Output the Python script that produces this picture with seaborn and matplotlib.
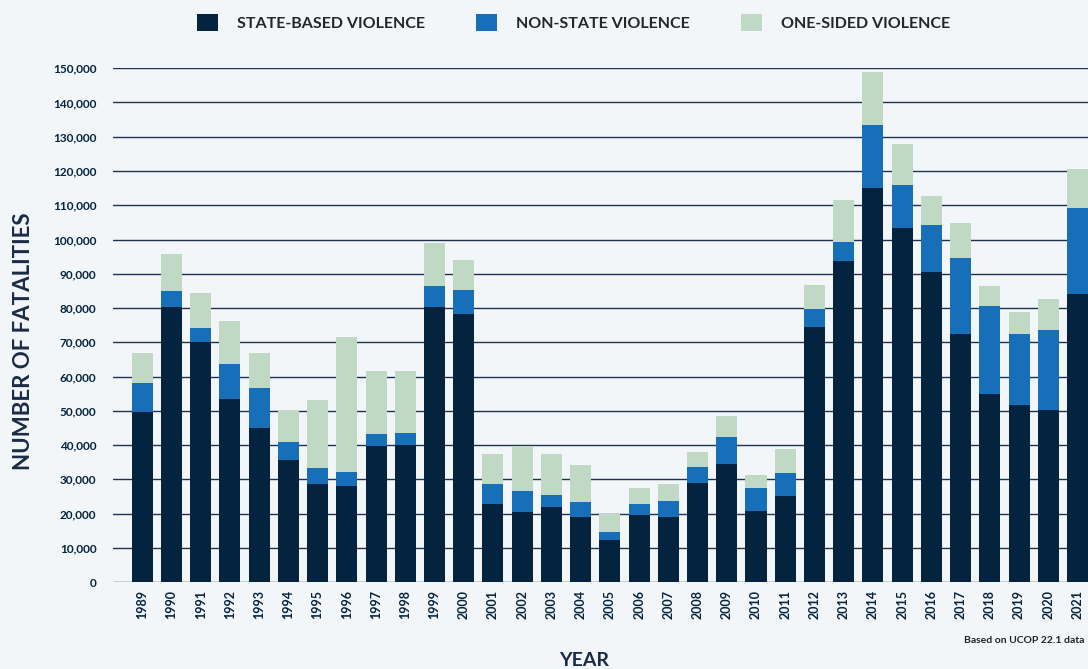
import matplotlib
matplotlib.use("Agg")
import matplotlib.pyplot as plt
from matplotlib.patches import Patch
from matplotlib.ticker import FuncFormatter
import numpy as np
import pandas as pd
import seaborn as sns

# data (thousands of fatalities)
years = [str(y) for y in range(1989, 2022)]
state_based = [49.6, 80.3, 70.0, 53.4, 44.9, 35.6, 28.6, 28.0, 39.7, 40.0,
               80.3, 78.2, 22.8, 20.4, 21.9, 19.0, 12.3, 19.6, 19.0, 28.9,
               34.4, 20.7, 25.1, 74.4, 93.7, 115.0, 103.3, 90.5, 72.4, 54.9,
               51.7, 50.2, 84.0]
non_state = [8.5, 4.6, 4.1, 10.2, 11.7, 5.3, 4.7, 4.1, 3.5, 3.5,
             6.1, 7.0, 5.8, 6.2, 3.5, 4.3, 2.3, 3.2, 4.6, 4.7,
             7.9, 6.7, 6.7, 5.3, 5.5, 18.4, 12.6, 13.7, 22.2, 25.6,
             20.7, 23.3, 25.1]
one_sided = [8.7, 10.8, 10.2, 12.6, 10.2, 9.3, 19.8, 39.4, 18.4, 18.1,
             12.5, 8.8, 8.8, 13.1, 12.0, 10.8, 5.2, 4.6, 5.0, 4.3,
             6.1, 3.8, 7.0, 7.0, 12.3, 15.4, 11.9, 8.4, 10.2, 5.9,
             6.4, 9.1, 11.4]
series_names = ["STATE-BASED VIOLENCE", "NON-STATE VIOLENCE", "ONE-SIDED VIOLENCE"]

df = pd.DataFrame({"year": years,
                   "state": np.array(state_based) * 1000,
                   "nonstate": np.array(non_state) * 1000,
                   "onesided": np.array(one_sided) * 1000})
df["lvl2"] = df["state"] + df["nonstate"]
df["lvl3"] = df["lvl2"] + df["onesided"]

bg = "#f2f6f9"
navy = "#04233f"
c_state, c_non, c_one = "#04233f", "#176fba", "#bfd9c5"

sns.set_style("white")
plt.rcParams["font.family"] = ["Lato", "DejaVu Sans"]

fig = plt.figure(figsize=(10.88, 6.69), dpi=100, facecolor=bg)
ax = fig.add_axes([0.1039, 0.130, 0.8961, 0.768])
ax.set_facecolor(bg)

# stacked bars: draw cumulative totals on top of each other
for col, color in [("lvl3", c_one), ("lvl2", c_non), ("state", c_state)]:
    sns.barplot(data=df, x="year", y=col, color=color, width=0.72,
                saturation=1, ax=ax, order=years, zorder=3, linewidth=0)

ax.set_xlim(-1.0, 32.36)
ax.set_ylim(0, 150000)
ax.set_yticks(np.arange(0, 150001, 10000))
ax.yaxis.set_major_formatter(FuncFormatter(lambda v, p: f"{int(v):,}"))
ax.grid(axis="y", color="#1c3350", linewidth=1.0, zorder=0)
ax.set_axisbelow(True)
for s in ax.spines.values():
    s.set_visible(False)
ax.tick_params(axis="both", length=0)
ax.tick_params(axis="y", pad=12)
ax.tick_params(axis="x", pad=6)
for lab in ax.get_yticklabels():
    lab.set_fontsize(8.5)
    lab.set_fontweight("bold")
    lab.set_color(navy)
for lab in ax.get_xticklabels():
    lab.set_rotation(90)
    lab.set_fontsize(9)
    lab.set_fontweight("bold")
    lab.set_color(navy)

ax.set_xlabel("")
ax.set_ylabel("")
fig.text(0.022, 0.49, "NUMBER OF FATALITIES", rotation=90, ha="center", va="center",
         fontsize=16, fontweight="bold", color="#1a2b45")
fig.text(0.537, 0.0, "YEAR", ha="center", va="bottom",
         fontsize=14, fontweight="bold", color="#1a2b45")
fig.text(0.997, 0.043, "Based on UCOP 22.1 data", ha="right", va="center",
         fontsize=7.5, fontweight="bold", color="#222222")

handles = [Patch(facecolor=c, edgecolor="none") for c in (c_state, c_non, c_one)]
fig.legend(handles, series_names, loc="center", bbox_to_anchor=(0.527, 0.966),
           ncol=3, frameon=False, handlelength=1.3, handleheight=1.3,
           handletextpad=1.2, columnspacing=3.2, prop={"weight": "bold", "size": 11.5})

fig.savefig("out.png", dpi=100, facecolor=bg)
